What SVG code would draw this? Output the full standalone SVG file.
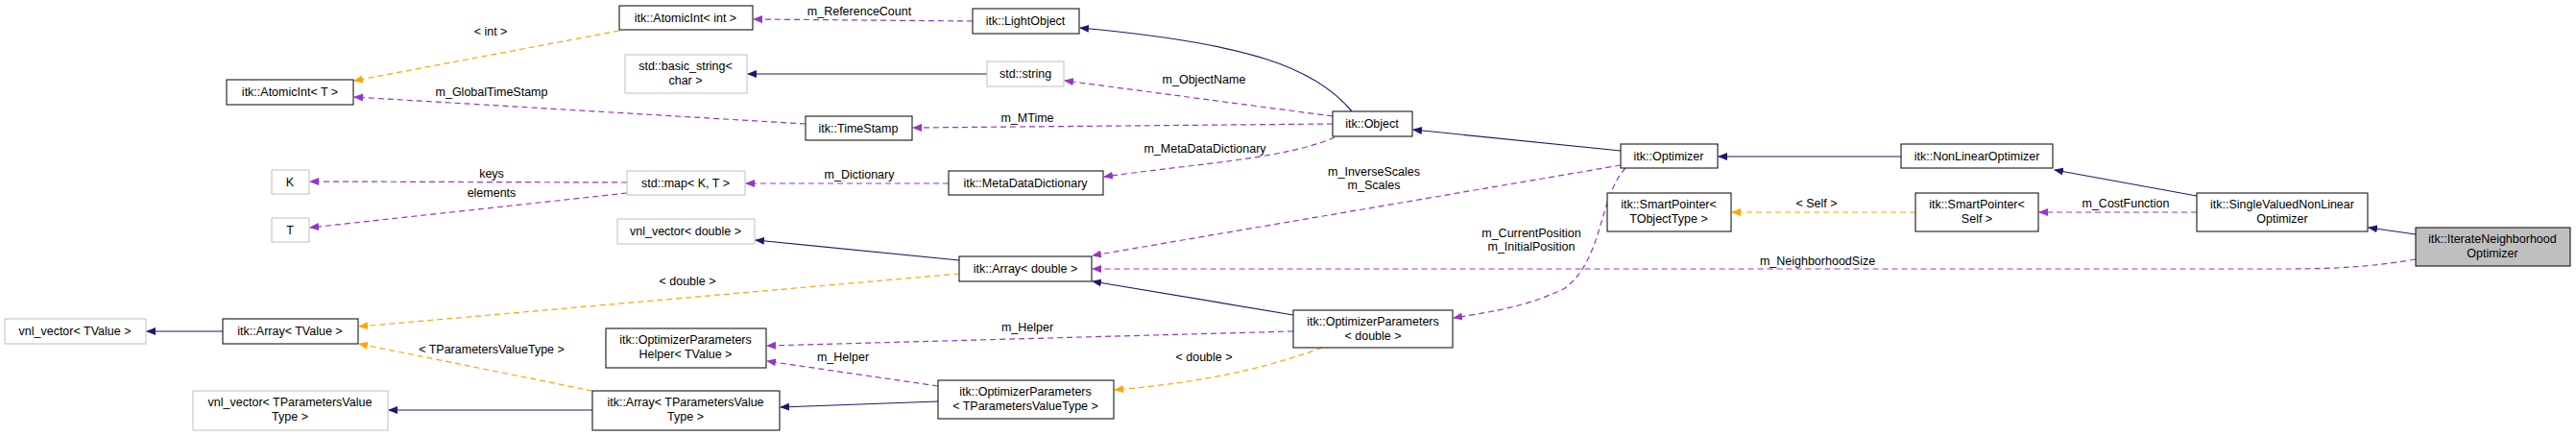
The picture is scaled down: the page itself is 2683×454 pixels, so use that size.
<svg xmlns="http://www.w3.org/2000/svg" width="2683" height="454" viewBox="0 0 2683 454">
<style>
text{font-family:"Liberation Sans",Arial,sans-serif;font-size:12.5px;fill:#000;text-anchor:middle}
.n rect{fill:#fff;stroke:#000;stroke-width:1}
.g rect{fill:#fff;stroke:#bfbfbf;stroke-width:1}
.f rect{fill:#bfbfbf;stroke:#000;stroke-width:1}
#edges path{fill:none;stroke-width:1.2}
.nv{stroke:#191970}
.pu{stroke:#9a32cd;stroke-dasharray:6,4}
.or{stroke:#ffa500;stroke-dasharray:6,4}
</style>
<defs>
<marker id="an" markerWidth="10" markerHeight="8" refX="9" refY="4" orient="auto" markerUnits="userSpaceOnUse"><path d="M0,0 L10,4 L0,8z" fill="#191970"/></marker>
<marker id="ap" markerWidth="10" markerHeight="8" refX="9" refY="4" orient="auto" markerUnits="userSpaceOnUse"><path d="M0,0 L10,4 L0,8z" fill="#9a32cd"/></marker>
<marker id="ao" markerWidth="10" markerHeight="8" refX="9" refY="4" orient="auto" markerUnits="userSpaceOnUse"><path d="M0,0 L10,4 L0,8z" fill="#ffa500"/></marker>
</defs>
<rect width="2683" height="454" fill="#fff"/>
<g id="edges">
<path class="or" marker-end="url(#ao)" d="M645,32 L369,84"/>
<path class="pu" marker-end="url(#ap)" d="M1013,22 L785,20"/>
<path class="nv" marker-end="url(#an)" d="M1408,116 C1370,70 1300,45 1125,29"/>
<path class="nv" marker-end="url(#an)" d="M1028,77 L779,77"/>
<path class="pu" marker-end="url(#ap)" d="M1388,121 L1109,84"/>
<path class="pu" marker-end="url(#ap)" d="M1388,129 L951,133"/>
<path class="pu" marker-end="url(#ap)" d="M839,129 L369,101"/>
<path class="pu" marker-end="url(#ap)" d="M1390,143 C1340,165 1250,170 1150,184"/>
<path class="pu" marker-end="url(#ap)" d="M988,191 L777,191"/>
<path class="pu" marker-end="url(#ap)" d="M653,190 L323,189"/>
<path class="pu" marker-end="url(#ap)" d="M653,201 L323,237"/>
<path class="nv" marker-end="url(#an)" d="M1688,157 L1472,135"/>
<path class="nv" marker-end="url(#an)" d="M1980,163 L1790,163"/>
<path class="nv" marker-end="url(#an)" d="M2288,204 L2140,177"/>
<path class="nv" marker-end="url(#an)" d="M2516,244 L2467,237"/>
<path class="pu" marker-end="url(#ap)" d="M2288,221 L2124,221"/>
<path class="or" marker-end="url(#ao)" d="M1995,221 L1804,221"/>
<path class="pu" marker-end="url(#ap)" d="M1688,172 L1138,266"/>
<path class="pu" marker-end="url(#ap)" d="M2516,270 C2470,278 2430,280 2380,280 L1138,280"/>
<path class="pu" marker-end="url(#ap)" d="M1693,175 C1665,205 1670,270 1630,300 C1590,320 1550,325 1514,331"/>
<path class="nv" marker-end="url(#an)" d="M999,271 L787,250"/>
<path class="nv" marker-end="url(#an)" d="M1347,328 L1138,293"/>
<path class="or" marker-end="url(#ao)" d="M999,285 L374,340"/>
<path class="pu" marker-end="url(#ap)" d="M1347,345 L799,360"/>
<path class="or" marker-end="url(#ao)" d="M1377,362 C1300,390 1230,400 1161,406"/>
<path class="pu" marker-end="url(#ap)" d="M977,402 L799,376"/>
<path class="nv" marker-end="url(#an)" d="M977,418 L813,424"/>
<path class="or" marker-end="url(#ao)" d="M617,407 L374,358"/>
<path class="nv" marker-end="url(#an)" d="M617,427 L405,427"/>
<path class="nv" marker-end="url(#an)" d="M232,345 L153,345"/>
<text x="511" y="37">&lt; int &gt;</text>
<text x="895" y="16">m_ReferenceCount</text>
<text x="1254" y="87">m_ObjectName</text>
<text x="1070" y="127">m_MTime</text>
<text x="512" y="100">m_GlobalTimeStamp</text>
<text x="1255" y="159">m_MetaDataDictionary</text>
<text x="895" y="186">m_Dictionary</text>
<text x="512" y="185">keys</text>
<text x="512" y="205">elements</text>
<text x="1431" y="183">m_InverseScales</text>
<text x="1431" y="197">m_Scales</text>
<text x="1595" y="247">m_CurrentPosition</text>
<text x="1595" y="261">m_InitialPosition</text>
<text x="1892" y="216">&lt; Self &gt;</text>
<text x="2214" y="216">m_CostFunction</text>
<text x="1893" y="276">m_NeighborhoodSize</text>
<text x="716" y="297">&lt; double &gt;</text>
<text x="1070" y="345">m_Helper</text>
<text x="878" y="376">m_Helper</text>
<text x="1254" y="376">&lt; double &gt;</text>
<text x="512" y="368">&lt; TParametersValueType &gt;</text>
</g>
<g id="n_aint" class="n"><rect x="645" y="6" width="139" height="25"/><text x="714" y="23">itk::AtomicInt&lt; int &gt;</text></g>
<g id="n_light" class="n"><rect x="1013" y="9" width="111" height="26"/><text x="1068" y="26">itk::LightObject</text></g>
<g id="n_bstr" class="g"><rect x="651" y="57" width="127" height="40"/><text x="714" y="73">std::basic_string&lt;</text><text x="714" y="88">char &gt;</text></g>
<g id="n_str" class="g"><rect x="1028" y="64" width="80" height="26"/><text x="1068" y="81">std::string</text></g>
<g id="n_aintT" class="n"><rect x="236" y="83" width="132" height="26"/><text x="302" y="100">itk::AtomicInt&lt; T &gt;</text></g>
<g id="n_ts" class="n"><rect x="839" y="121" width="111" height="25"/><text x="894" y="138">itk::TimeStamp</text></g>
<g id="n_obj" class="n"><rect x="1388" y="116" width="83" height="26"/><text x="1429" y="133">itk::Object</text></g>
<g id="n_opt" class="n"><rect x="1688" y="150" width="101" height="25"/><text x="1738" y="167">itk::Optimizer</text></g>
<g id="n_nlo" class="n"><rect x="1980" y="150" width="158" height="25"/><text x="2059" y="167">itk::NonLinearOptimizer</text></g>
<g id="n_K" class="g"><rect x="283" y="177" width="39" height="25"/><text x="302" y="194">K</text></g>
<g id="n_map" class="g"><rect x="653" y="178" width="123" height="25"/><text x="714" y="195">std::map&lt; K, T &gt;</text></g>
<g id="n_mdd" class="n"><rect x="988" y="178" width="161" height="25"/><text x="1068" y="195">itk::MetaDataDictionary</text></g>
<g id="n_spT" class="n"><rect x="1674" y="201" width="129" height="40"/><text x="1738" y="217">itk::SmartPointer&lt;</text><text x="1738" y="232">TObjectType &gt;</text></g>
<g id="n_spS" class="n"><rect x="1995" y="201" width="128" height="40"/><text x="2059" y="217">itk::SmartPointer&lt;</text><text x="2059" y="232">Self &gt;</text></g>
<g id="n_svnlo" class="n"><rect x="2288" y="201" width="178" height="40"/><text x="2377" y="217">itk::SingleValuedNonLinear</text><text x="2377" y="232">Optimizer</text></g>
<g id="n_T" class="g"><rect x="283" y="227" width="39" height="25"/><text x="302" y="244">T</text></g>
<g id="n_vnld" class="g"><rect x="643" y="228" width="143" height="26"/><text x="714" y="245">vnl_vector&lt; double &gt;</text></g>
<g id="n_ino" class="f"><rect x="2516" y="237" width="161" height="40"/><text x="2596" y="253">itk::IterateNeighborhood</text><text x="2596" y="268">Optimizer</text></g>
<g id="n_ad" class="n"><rect x="999" y="267" width="138" height="26"/><text x="1068" y="284">itk::Array&lt; double &gt;</text></g>
<g id="n_opd" class="n"><rect x="1347" y="323" width="166" height="39"/><text x="1430" y="339">itk::OptimizerParameters</text><text x="1430" y="354">&lt; double &gt;</text></g>
<g id="n_vnlT" class="g"><rect x="5" y="332" width="147" height="26"/><text x="78" y="349">vnl_vector&lt; TValue &gt;</text></g>
<g id="n_aT" class="n"><rect x="232" y="332" width="141" height="26"/><text x="302" y="349">itk::Array&lt; TValue &gt;</text></g>
<g id="n_oph" class="n"><rect x="631" y="342" width="167" height="41"/><text x="714" y="358">itk::OptimizerParameters</text><text x="714" y="373">Helper&lt; TValue &gt;</text></g>
<g id="n_opP" class="n"><rect x="977" y="396" width="183" height="40"/><text x="1068" y="412">itk::OptimizerParameters</text><text x="1068" y="427">&lt; TParametersValueType &gt;</text></g>
<g id="n_vnlP" class="g"><rect x="201" y="407" width="203" height="41"/><text x="302" y="423">vnl_vector&lt; TParametersValue</text><text x="302" y="438">Type &gt;</text></g>
<g id="n_aP" class="n"><rect x="617" y="407" width="195" height="41"/><text x="714" y="423">itk::Array&lt; TParametersValue</text><text x="714" y="438">Type &gt;</text></g>
</svg>
